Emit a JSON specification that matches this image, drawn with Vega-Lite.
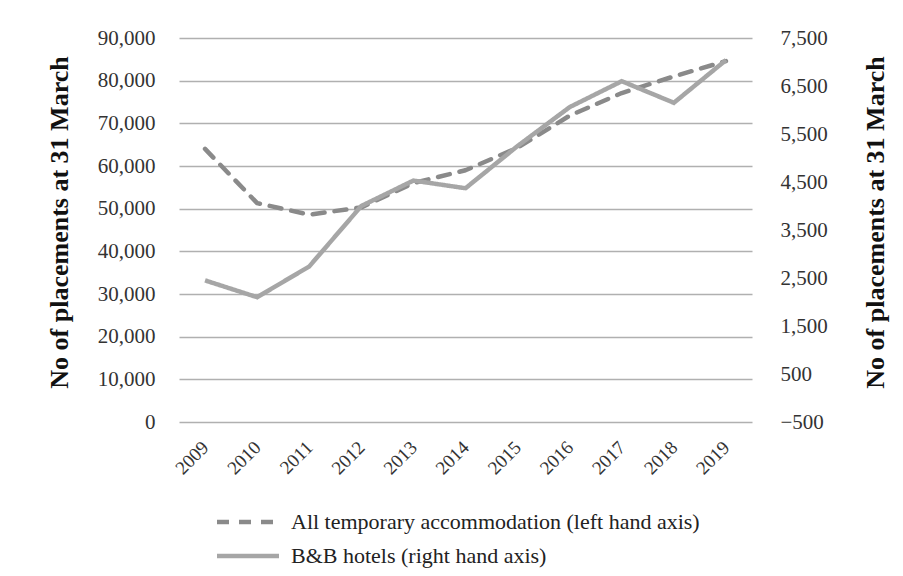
{
  "$schema": "https://vega.github.io/schema/vega-lite/v6.json",
  "width": 573,
  "height": 384,
  "autosize": {"type": "none"},
  "padding": {"left": 179, "top": 38, "right": 151, "bottom": 154},
  "background": "white",
  "config": {
    "font": "Liberation Serif",
    "view": {"stroke": null},
    "axis": {
      "labelFont": "Liberation Serif",
      "titleFont": "Liberation Serif",
      "labelColor": "#333333",
      "titleColor": "#111111",
      "labelFontSize": 21,
      "titleFontSize": 26,
      "titleFontWeight": "bold",
      "ticks": false,
      "domain": false
    },
    "legend": {
      "labelFont": "Liberation Serif",
      "labelFontSize": 22,
      "labelColor": "#222222",
      "labelLimit": 600,
      "padding": 0
    }
  },
  "data": {
    "values": [
      {"year": "2009", "series": "All temporary accommodation (left hand axis)", "value": 64000},
      {"year": "2010", "series": "All temporary accommodation (left hand axis)", "value": 51300},
      {"year": "2011", "series": "All temporary accommodation (left hand axis)", "value": 48600},
      {"year": "2012", "series": "All temporary accommodation (left hand axis)", "value": 50300},
      {"year": "2013", "series": "All temporary accommodation (left hand axis)", "value": 56000},
      {"year": "2014", "series": "All temporary accommodation (left hand axis)", "value": 59000},
      {"year": "2015", "series": "All temporary accommodation (left hand axis)", "value": 64300},
      {"year": "2016", "series": "All temporary accommodation (left hand axis)", "value": 71800},
      {"year": "2017", "series": "All temporary accommodation (left hand axis)", "value": 77100},
      {"year": "2018", "series": "All temporary accommodation (left hand axis)", "value": 81000},
      {"year": "2019", "series": "All temporary accommodation (left hand axis)", "value": 84600},
      {"year": "2009", "series": "B&B hotels (right hand axis)", "value": 2450},
      {"year": "2010", "series": "B&B hotels (right hand axis)", "value": 2100},
      {"year": "2011", "series": "B&B hotels (right hand axis)", "value": 2740},
      {"year": "2012", "series": "B&B hotels (right hand axis)", "value": 4000},
      {"year": "2013", "series": "B&B hotels (right hand axis)", "value": 4530},
      {"year": "2014", "series": "B&B hotels (right hand axis)", "value": 4370},
      {"year": "2015", "series": "B&B hotels (right hand axis)", "value": 5250},
      {"year": "2016", "series": "B&B hotels (right hand axis)", "value": 6060},
      {"year": "2017", "series": "B&B hotels (right hand axis)", "value": 6600},
      {"year": "2018", "series": "B&B hotels (right hand axis)", "value": 6150},
      {"year": "2019", "series": "B&B hotels (right hand axis)", "value": 7040}
    ]
  },
  "encoding": {
    "x": {
      "field": "year",
      "type": "ordinal",
      "scale": {"type": "point", "padding": 0.5},
      "axis": {
        "title": null,
        "labelAngle": -45,
        "labelAlign": "right",
        "labelBaseline": "middle",
        "labelFont": "Liberation Serif",
        "labelFontSize": 19,
        "labelPadding": 22,
        "grid": false
      }
    },
    "color": {
      "field": "series",
      "type": "nominal",
      "scale": {
        "domain": ["All temporary accommodation (left hand axis)", "B&B hotels (right hand axis)"],
        "range": ["#8a8a8a", "#a6a6a6"]
      },
      "legend": {
        "title": null,
        "orient": "none",
        "legendX": 56,
        "legendY": 471,
        "direction": "vertical",
        "symbolType": "M-3,0H3",
        "symbolSize": 427,
        "symbolStrokeWidth": 4.5,
        "labelFont": "Liberation Serif",
        "labelFontSize": 22,
        "labelOffset": 30,
        "rowPadding": 10
      }
    },
    "strokeDash": {
      "field": "series",
      "type": "nominal",
      "scale": {
        "domain": ["All temporary accommodation (left hand axis)", "B&B hotels (right hand axis)"],
        "range": [[12, 10], [1, 0]]
      },
      "legend": {
        "title": null,
        "orient": "none",
        "legendX": 56,
        "legendY": 471,
        "direction": "vertical",
        "symbolType": "M-3,0H3",
        "symbolSize": 427,
        "symbolStrokeWidth": 4.5,
        "labelFont": "Liberation Serif",
        "labelFontSize": 22,
        "labelOffset": 30,
        "rowPadding": 10
      }
    }
  },
  "layer": [
    {
      "transform": [{"filter": "datum.series == 'All temporary accommodation (left hand axis)'"}],
      "mark": {"type": "line", "strokeWidth": 4.5, "strokeCap": "round", "strokeJoin": "round"},
      "encoding": {
        "y": {
          "field": "value",
          "type": "quantitative",
          "scale": {"domain": [0, 90000], "nice": false},
          "axis": {
            "orient": "left",
            "title": "No of placements at 31 March",
            "values": [0, 10000, 20000, 30000, 40000, 50000, 60000, 70000, 80000, 90000],
            "format": ",.0f",
            "labelPadding": 24,
            "grid": true,
            "gridColor": "#b0b0b0",
            "gridWidth": 1.6,
            "titleX": -112,
            "titleY": 184,
            "titleAlign": "center",
            "titleBaseline": "alphabetic",
            "titleAngle": -90
          }
        }
      }
    },
    {
      "transform": [{"filter": "datum.series == 'B&B hotels (right hand axis)'"}],
      "mark": {"type": "line", "strokeWidth": 4.5, "strokeCap": "butt", "strokeJoin": "miter"},
      "encoding": {
        "y": {
          "field": "value",
          "type": "quantitative",
          "scale": {"domain": [-500, 7500], "nice": false, "zero": false},
          "axis": {
            "orient": "right",
            "title": "No of placements at 31 March",
            "values": [-500, 500, 1500, 2500, 3500, 4500, 5500, 6500, 7500],
            "format": ",.0f",
            "labelPadding": 28,
            "grid": false,
            "titleX": 131,
            "titleY": 184,
            "titleAlign": "center",
            "titleBaseline": "alphabetic",
            "titleAngle": -90
          }
        }
      }
    }
  ],
  "resolve": {"scale": {"y": "independent"}, "axis": {"y": "independent"}}
}
